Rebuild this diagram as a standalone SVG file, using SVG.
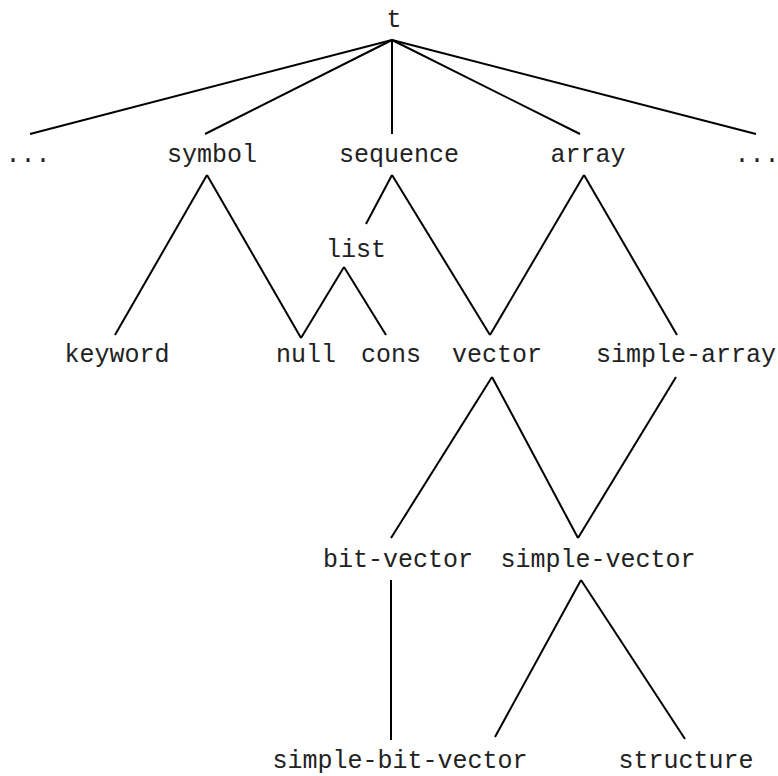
<svg xmlns="http://www.w3.org/2000/svg" width="778" height="776" viewBox="0 0 778 776">
<style>
text{font-family:"Liberation Mono","Courier New",monospace;font-size:25px;fill:#222;text-anchor:middle}
line{stroke:#000;stroke-width:2;fill:none}
</style>
<rect width="778" height="776" fill="#fff"/>
<g id="connectors">
<line x1="392" y1="40" x2="30" y2="134"/>
<line x1="392" y1="40" x2="205" y2="134"/>
<line x1="392" y1="40" x2="392" y2="134"/>
<line x1="392" y1="40" x2="580" y2="134"/>
<line x1="392" y1="40" x2="756" y2="134"/>
<line x1="207" y1="175" x2="115" y2="335"/>
<line x1="207" y1="175" x2="301" y2="338"/>
<line x1="344" y1="267" x2="301" y2="338"/>
<line x1="344" y1="267" x2="386" y2="335"/>
<line x1="392" y1="175" x2="366" y2="224"/>
<line x1="392" y1="175" x2="490" y2="335"/>
<line x1="584" y1="175" x2="490" y2="335"/>
<line x1="584" y1="175" x2="677" y2="335"/>
<line x1="492" y1="377" x2="391" y2="538"/>
<line x1="492" y1="377" x2="578" y2="538"/>
<line x1="676" y1="377" x2="578" y2="538"/>
<line x1="391" y1="580" x2="391" y2="740"/>
<line x1="581" y1="580" x2="495" y2="737"/>
<line x1="581" y1="580" x2="685" y2="739"/>
</g>
<g id="n-t"><text x="394" y="27">t</text></g>
<g id="n-dots-left"><text x="28" y="162">...</text></g>
<g id="n-symbol"><text x="212" y="162">symbol</text></g>
<g id="n-sequence"><text x="399" y="162">sequence</text></g>
<g id="n-array"><text x="588" y="162">array</text></g>
<g id="n-dots-right"><text x="757" y="162">...</text></g>
<g id="n-list"><text x="356" y="257">list</text></g>
<g id="n-keyword"><text x="117" y="362">keyword</text></g>
<g id="n-null"><text x="306" y="362">null</text></g>
<g id="n-cons"><text x="391" y="362">cons</text></g>
<g id="n-vector"><text x="497" y="362">vector</text></g>
<g id="n-simple-array"><text x="686" y="362">simple-array</text></g>
<g id="n-bit-vector"><text x="398" y="567">bit-vector</text></g>
<g id="n-simple-vector"><text x="598" y="567">simple-vector</text></g>
<g id="n-simple-bit-vector"><text x="400" y="768">simple-bit-vector</text></g>
<g id="n-structure"><text x="686" y="768">structure</text></g>
</svg>
